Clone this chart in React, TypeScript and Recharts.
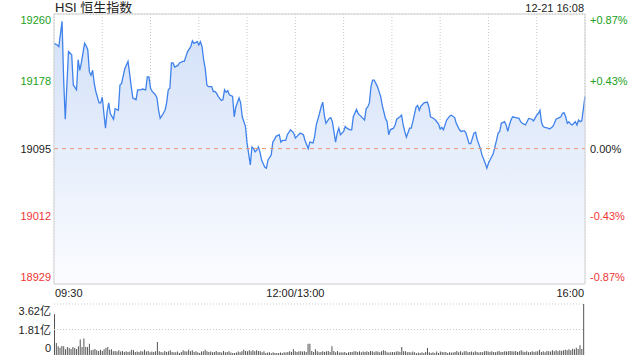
import { ComposedChart, Area, Line, XAxis, YAxis, CartesianGrid, ReferenceLine, BarChart, Bar } from "recharts";

// minutes since 09:30 (lunch break removed) and index level
const minutes = [
  0, 2, 3, 5, 6, 7, 9, 11, 12, 14, 15, 16, 17, 19, 20, 21, 22, 23, 24, 25,
  26, 28, 29, 30, 31, 32, 33, 34, 35, 37, 38, 40, 41, 42, 44, 46, 47, 48, 49, 51,
  52, 54, 55, 57, 58, 59, 60, 61, 63, 64, 65, 66, 67, 69, 70, 71, 72, 73, 74, 75,
  77, 78, 80, 81, 82, 83, 85, 86, 87, 89, 90, 91, 92, 93, 94, 95, 96, 98, 99, 100,
  101, 102, 104, 105, 106, 107, 108, 109, 111, 112, 113, 115, 116, 117, 119, 120, 122, 123, 124, 125,
  126, 127, 128, 129, 131, 132, 133, 135, 136, 137, 138, 140, 141, 142, 144, 145, 147, 149, 150, 151,
  153, 155, 156, 158, 159, 161, 162, 163, 165, 166, 167, 168, 169, 171, 172, 173, 175, 176, 177, 178,
  180, 181, 182, 184, 185, 186, 188, 189, 190, 192, 193, 194, 195, 196, 197, 198, 199, 201, 203, 204,
  206, 207, 208, 209, 211, 212, 213, 215, 216, 217, 218, 219, 221, 222, 223, 225, 226, 227, 228, 230,
  232, 233, 234, 236, 237, 239, 240, 241, 242, 244, 246, 247, 249, 250, 252, 253, 255, 256, 258, 259,
  261, 262, 263, 265, 266, 268, 269, 270, 272, 273, 275, 276, 277, 278, 280, 281, 282, 283, 284, 285,
  287, 289, 290, 291, 293, 294, 295, 297, 298, 300, 301, 302, 303, 304, 305, 307, 308, 310, 311, 312,
  314, 315, 316, 317, 318, 319, 320, 321, 322, 324, 325, 326, 327, 328, 329, 330,
];
const prices = [
  19224, 19222, 19220, 19251, 19179, 19131, 19214, 19210, 19173, 19167, 19204, 19191, 19200, 19224, 19221, 19216, 19189, 19185, 19191, 19175,
  19165, 19151, 19151, 19158, 19138, 19120, 19140, 19151, 19138, 19131, 19144, 19142, 19173, 19175, 19193, 19202, 19187, 19171, 19157, 19155,
  19167, 19167, 19168, 19167, 19183, 19183, 19169, 19165, 19161, 19157, 19142, 19132, 19135, 19142, 19151, 19167, 19169, 19200, 19200, 19195,
  19197, 19200, 19202, 19202, 19208, 19214, 19220, 19227, 19224, 19226, 19222, 19226, 19220, 19204, 19193, 19173, 19171, 19171, 19165, 19165,
  19163, 19159, 19154, 19155, 19167, 19164, 19166, 19161, 19159, 19134, 19146, 19157, 19151, 19134, 19122, 19101, 19075, 19097, 19095, 19091,
  19093, 19097, 19091, 19081, 19072, 19071, 19081, 19087, 19103, 19106, 19110, 19112, 19103, 19105, 19105, 19112, 19118, 19114, 19108, 19110,
  19114, 19112, 19105, 19095, 19103, 19102, 19110, 19124, 19138, 19146, 19152, 19136, 19126, 19132, 19133, 19128, 19103, 19114, 19120, 19112,
  19116, 19122, 19120, 19118, 19118, 19134, 19143, 19138, 19136, 19132, 19130, 19144, 19146, 19151, 19171, 19179, 19179, 19171, 19159, 19148,
  19132, 19128, 19112, 19118, 19120, 19124, 19131, 19134, 19136, 19124, 19116, 19109, 19120, 19120, 19128, 19146, 19148, 19142, 19147, 19151,
  19152, 19146, 19134, 19132, 19130, 19125, 19119, 19121, 19118, 19130, 19135, 19136, 19133, 19126, 19118, 19116, 19117, 19114, 19101, 19101,
  19114, 19115, 19106, 19095, 19087, 19077, 19071, 19077, 19085, 19089, 19105, 19114, 19116, 19126, 19128, 19124, 19116, 19124, 19130, 19134,
  19133, 19132, 19128, 19126, 19124, 19128, 19132, 19131, 19129, 19136, 19138, 19142, 19127, 19122, 19121, 19120, 19119, 19122, 19126, 19131,
  19133, 19134, 19138, 19139, 19134, 19126, 19128, 19125, 19124, 19128, 19124, 19130, 19128, 19129, 19144, 19159,
];

const gridMinutes = [0, 30, 60, 90, 120, 150, 180, 210, 240, 270, 300, 330];
const timeLabelMinutes = [0, 150, 330];
const timeLabels = ["09:30", "12:00/13:00", "16:00"];

const prevClose = 19095;
const priceTicks = [18929, 19012, 19095, 19178, 19260];
const pctLabels = ["-0.87%", "-0.43%", "0.00%", "+0.43%", "+0.87%"];

// volume in 亿
const volumes = [
  2.9, 0.86, 0.62, 0.52, 0.64, 0.62, 0.4, 0.57, 0.5, 0.43,
  0.57, 0.52, 0.43, 0.62, 1.1, 0.57, 1.17, 0.57, 0.57, 0.79,
  0.33, 0.38, 0.43, 0.33, 0.29, 0.38, 0.29, 0.4, 0.52, 0.57,
  0.38, 0.4, 0.26, 0.29, 0.24, 0.33, 0.24, 0.29, 0.21, 0.26,
  0.21, 0.24, 0.38, 0.33, 0.21, 0.24, 0.21, 0.29, 0.24, 0.38,
  0.24, 0.29, 0.19, 0.24, 0.21, 0.26, 0.93, 0.26, 0.21, 0.17,
  0.29, 0.21, 0.26, 0.33, 0.21, 0.19, 0.19, 0.24, 0.14, 0.21,
  0.33, 0.26, 0.24, 0.38, 0.26, 0.33, 0.21, 0.26, 0.19, 0.14,
  0.24, 0.26, 0.38, 0.26, 0.21, 0.24, 0.19, 0.21, 0.29, 0.19,
  0.21, 0.17, 0.29, 0.19, 0.21,
  0.26, 0.17, 0.14, 0.14, 0.17, 0.24, 0.19, 0.26, 0.38, 0.29,
  0.26, 0.33, 0.26, 0.33, 0.26, 0.33, 0.29, 0.26, 0.19, 0.26,
  0.14, 0.17, 0.19, 0.12, 0.19, 0.14, 0.14, 0.14, 0.17, 0.14,
  0.19, 0.17, 0.21, 0.26, 0.21, 0.4, 0.26, 0.21, 0.26, 0.26,
  0.24, 0.26, 0.21, 0.79, 0.79, 0.29, 0.21, 0.4, 0.26, 0.19,
  0.21, 0.26, 0.21, 0.26, 0.29, 0.21, 0.62, 0.29, 0.19, 0.29,
  0.17, 0.19, 0.17, 0.21, 0.14, 0.19, 0.21, 0.21, 0.26, 0.26,
  0.21, 0.26, 0.19, 0.24, 0.21, 0.26, 0.21, 0.29, 0.26, 0.19,
  0.26, 0.24, 0.19, 0.26, 0.33, 0.29, 0.19, 0.17, 0.19, 0.21,
  0.19, 0.24, 0.26, 0.21, 0.57, 0.26,
  0.26, 0.19, 0.21, 0.17, 0.24, 0.19, 0.12, 0.17, 0.14, 0.19,
  0.14, 0.21, 0.5, 0.19, 0.14, 0.19, 0.14, 0.24, 0.14, 0.24,
  0.21, 0.19, 0.21, 0.14, 0.19, 0.17, 0.17, 0.21, 0.29, 0.19,
  0.26, 0.17, 0.26, 0.29, 0.19, 0.21, 0.24, 0.19, 0.26, 0.21,
  0.17, 0.21, 0.19, 0.26, 0.29, 0.24, 0.21, 0.26, 0.21, 0.19,
  0.24, 0.29, 0.21, 0.21, 0.26, 0.24, 0.26, 0.29, 0.26, 0.24,
  0.29, 0.21, 0.26, 0.33, 0.24, 0.21, 0.26, 0.19, 0.21, 0.26,
  0.21, 0.24, 0.26, 0.38, 0.21, 0.26, 0.19, 0.29, 0.26, 0.24,
  0.33, 0.26, 0.33, 0.26, 0.33, 0.29, 0.33, 0.38, 0.33, 0.4,
  0.33, 0.45, 0.4, 0.52, 0.43, 0.69, 0.43, 3.62,
];
const volTicks = [0, 1.81, 3.62];
const volLabels = ["0", "1.81亿", "3.62亿"];

const FONT = "Arial, 'Liberation Sans', 'Noto Sans CJK SC', sans-serif";
const GREEN = "#21a121";
const RED = "#f03535";
const GRID = "#c9c9c9";
const FRAME = "#d0d0d0";

function tickColor(v: number) {
  if (v > prevClose) return GREEN;
  if (v < prevClose) return RED;
  return "#222";
}

// first/last labels get nudged inside the plot like the original
function edgeShift(v: number, ticks: number[], top: number, bottom: number) {
  if (v === ticks[ticks.length - 1]) return top;
  if (v === ticks[0]) return bottom;
  return 0;
}

function PriceTick(props: any) {
  const { x, y, payload } = props;
  const v = payload.value;
  return (
    <text x={x} y={y + edgeShift(v, priceTicks, 6, -7)} dy={4} textAnchor="end" fontSize={11} fontFamily={FONT} fill={tickColor(v)}>
      {v}
    </text>
  );
}

function PctTick(props: any) {
  const { x, y, payload } = props;
  const v = payload.value;
  const i = priceTicks.indexOf(v);
  return (
    <text x={x} y={y + edgeShift(v, priceTicks, 6, -7)} dy={4} textAnchor="start" fontSize={11} fontFamily={FONT} fill={tickColor(v)}>
      {pctLabels[i]}
    </text>
  );
}

function TimeTick(props: any) {
  const { x, y, payload } = props;
  const i = timeLabelMinutes.indexOf(payload.value);
  if (i < 0) return null;
  const anchor = i === 0 ? "start" : i === timeLabels.length - 1 ? "end" : "middle";
  return (
    <text x={x + (i === 0 ? 1 : i === timeLabels.length - 1 ? -1 : 0)} y={y + 13} textAnchor={anchor} fontSize={11} fontFamily={FONT} fill="#222">
      {timeLabels[i]}
    </text>
  );
}

function VolTick(props: any) {
  const { x, y, payload } = props;
  const v = payload.value;
  const i = volTicks.indexOf(v);
  return (
    <text x={x} y={y + edgeShift(v, volTicks, 7, -7)} dy={4} textAnchor="end" fontSize={11} fontFamily={FONT} fill="#222">
      {volLabels[i]}
    </text>
  );
}

export default function App() {
  const series = minutes.map((t, i) => ({ t, p: prices[i] }));
  const volData = volumes.map((v, i) => ({ i, v }));

  return (
    <div style={{ position: "absolute", left: 0, top: 0, width: 640, height: 360, background: "#fff", fontFamily: FONT }}>
      <div style={{ position: "absolute", left: 55, top: 0, fontSize: 13, lineHeight: "15px", color: "#222" }}>HSI 恒生指数</div>
      <div style={{ position: "absolute", right: 56, top: 1, fontSize: 11, lineHeight: "14px", color: "#222" }}>12-21 16:08</div>

      <div style={{ position: "absolute", left: 0, top: 0 }}>
        <ComposedChart width={640} height={300} data={series} margin={{ top: 14, right: 0, bottom: 0, left: 0 }}>
          <defs>
            <linearGradient id="hsiFill" x1="0" y1="0" x2="0" y2="1">
              <stop offset="0%" stopColor="#d2e0f8" />
              <stop offset="100%" stopColor="#fbfcff" />
            </linearGradient>
          </defs>
          <CartesianGrid stroke={GRID} strokeDasharray="1 2" />
          <XAxis
            type="number"
            dataKey="t"
            domain={[0, 330]}
            ticks={gridMinutes}
            interval={0}
            height={16}
            tickSize={0}
            tickMargin={0}
            tick={<TimeTick />}
            axisLine={{ stroke: FRAME }}
          />
          <YAxis
            yAxisId="l"
            domain={[priceTicks[0], priceTicks[priceTicks.length - 1]]}
            ticks={priceTicks}
            interval={0}
            width={54}
            tickSize={0}
            tickMargin={3}
            tick={<PriceTick />}
            axisLine={{ stroke: FRAME }}
            allowDataOverflow
          />
          <YAxis
            yAxisId="r"
            orientation="right"
            domain={[priceTicks[0], priceTicks[priceTicks.length - 1]]}
            ticks={priceTicks}
            interval={0}
            width={55}
            tickSize={0}
            tickMargin={5}
            tick={<PctTick />}
            axisLine={{ stroke: FRAME }}
            allowDataOverflow
          />
          <ReferenceLine yAxisId="l" y={prevClose} stroke="#e49a76" strokeDasharray="4 4" />
          <ReferenceLine yAxisId="l" y={priceTicks[priceTicks.length - 1]} stroke={FRAME} />
          <Area
            yAxisId="l"
            type="linear"
            dataKey="p"
            stroke="#3f82eb"
            strokeWidth={1.3}
            fill="url(#hsiFill)"
            fillOpacity={1}
            dot={false}
            activeDot={false}
            isAnimationActive={false}
          />
          <Line yAxisId="r" dataKey="p" stroke="none" dot={false} activeDot={false} isAnimationActive={false} />
          <text x={573} y={282} textAnchor="end" fontSize={10.5} fontFamily={FONT} fill="#c6c6c6">
            sina.com
          </text>
        </ComposedChart>
      </div>

      <div style={{ position: "absolute", left: 0, top: 290 }}>
        <BarChart width={640} height={70} data={volData} margin={{ top: 14, right: 55, bottom: 5, left: 0 }} barCategoryGap={0}>
          <XAxis dataKey="i" hide />
          <YAxis
            domain={[0, volTicks[volTicks.length - 1]]}
            ticks={volTicks}
            interval={0}
            width={54}
            tickSize={0}
            tickMargin={3}
            tick={<VolTick />}
            axisLine={false}
          />
          <ReferenceLine y={volTicks[1]} stroke={GRID} strokeDasharray="1 2" />
          <ReferenceLine y={volTicks[2]} stroke={GRID} strokeDasharray="1 2" />
          <Bar dataKey="v" fill="#555" barSize={1} isAnimationActive={false} />
        </BarChart>
      </div>
    </div>
  );
}
